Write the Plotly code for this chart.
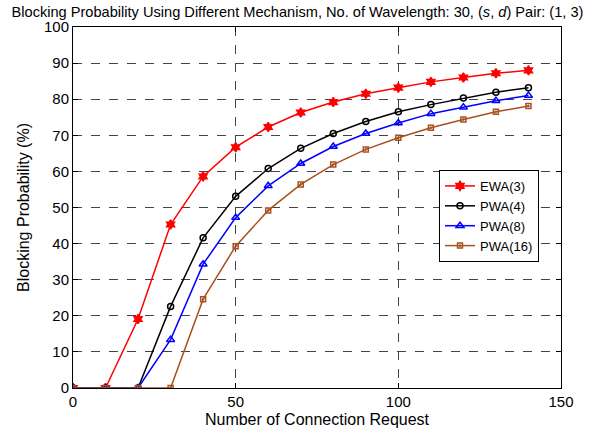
import plotly.graph_objects as go

x_vals = [0, 10, 20, 30, 40, 50, 60, 70, 80, 90, 100, 110, 120, 130, 140]
ewa3 = [0, 0, 19.1, 45.3, 58.6, 66.7, 72.3, 76.3, 79.2, 81.5, 83.2, 84.8, 86.0, 87.2, 88.0]
pwa4 = [0, 0, 0, 22.6, 41.6, 53.1, 60.8, 66.4, 70.5, 73.8, 76.5, 78.5, 80.3, 81.9, 83.2]
pwa8 = [0, 0, 0, 13.4, 34.3, 47.2, 56.0, 62.2, 66.9, 70.5, 73.4, 76.0, 77.8, 79.6, 81.0]
pwa16 = [0, 0, 0, 0, 24.6, 39.3, 49.2, 56.4, 61.9, 66.1, 69.3, 72.1, 74.4, 76.5, 78.1]

series = [
    ("EWA(3)", ewa3, "#ff0000", "hexagram", 7),
    ("PWA(4)", pwa4, "#000000", "circle-open", 6),
    ("PWA(8)", pwa8, "#0000ff", "triangle-up-open", 7),
    ("PWA(16)", pwa16, "#a8501e", "square-open-dot", 5),
]

fig = go.Figure()
for name, ys, col, sym, sz in series:
    fig.add_trace(go.Scatter(
        x=x_vals, y=ys, name=name, mode="lines+markers",
        line=dict(color=col, width=1.5),
        marker=dict(symbol=sym, size=sz, color=col, line=dict(color=col, width=1.5)),
    ))

font = "Liberation Sans, Arial, sans-serif"
axis_common = dict(
    showline=True, linecolor="black", linewidth=1, mirror="ticks",
    ticks="inside", ticklen=5, tickcolor="black",
    showgrid=True, gridcolor="#444", griddash="dash", gridwidth=1,
    zeroline=False, tickfont=dict(size=15, color="black", family=font),
    automargin=False,
)
fig.update_xaxes(range=[0, 150], dtick=50, tick0=0,
                 title=dict(text="Number of Connection Request", font=dict(size=16, color="black", family=font), standoff=4),
                 **axis_common)
fig.update_yaxes(range=[0, 100], dtick=10, tick0=0,
                 title=dict(text="Blocking Probability (%)", font=dict(size=16, color="black", family=font), standoff=10),
                 **axis_common)

fig.update_layout(
    width=595, height=438,
    margin=dict(l=73, r=34, t=27, b=50),
    paper_bgcolor="white", plot_bgcolor="white",
    title=dict(text="Blocking Probability Using Different Mechanism, No. of Wavelength: 30, (<i>s</i>, <i>d</i>) Pair: (1, 3)",
               x=0.5, xanchor="center", y=0.973, yanchor="middle",
               font=dict(size=14.6, color="black", family=font)),
    legend=dict(x=0.75, y=0.604, xanchor="left", yanchor="top",
                bordercolor="black", borderwidth=1, bgcolor="white",
                font=dict(size=13, color="black", family=font),
                tracegroupgap=0, itemwidth=30),
    showlegend=True,
)

fig.write_html("out.html", config={"displayModeBar": False},
               post_script="document.body.style.margin='0';")
